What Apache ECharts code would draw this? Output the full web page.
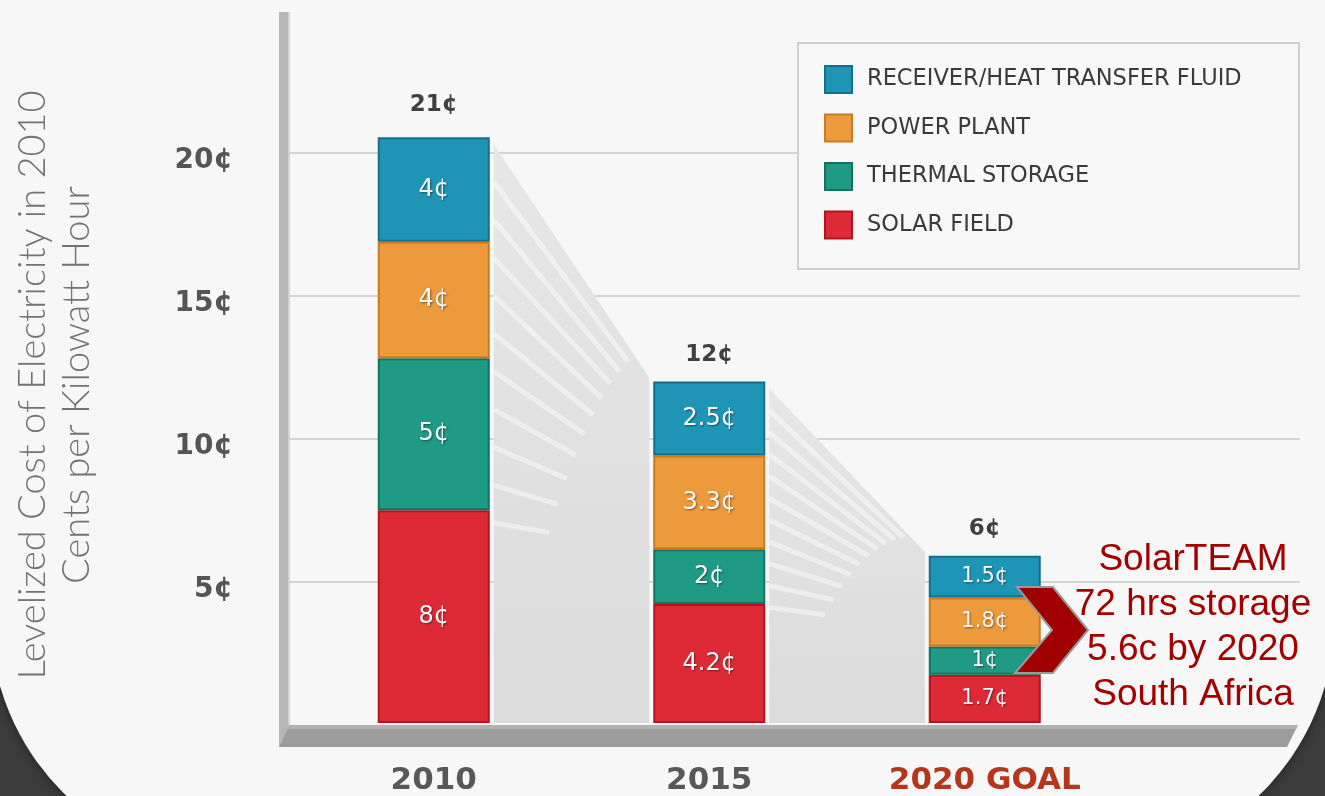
<!DOCTYPE html>
<html>
<head>
<meta charset="utf-8">
<script src="https://cdn.jsdelivr.net/npm/echarts/dist/echarts.min.js"></script>
<style>
  html, body { margin: 0; padding: 0; }
  body { width: 1325px; height: 796px; background: #3b3b3b; overflow: hidden; position: relative; }
  #card { position: absolute; left: -10px; top: -10px; width: 1345px; height: 876px; background: #f7f7f7;
          border-bottom-left-radius: 250px; border-bottom-right-radius: 250px; box-shadow: 0 0 10px rgba(0,0,0,0.45); }
  #chart { position: absolute; left: 0; top: 0; width: 1325px; height: 796px; }
</style>
</head>
<body>
<div id="card"></div>
<div id="chart"></div>
<script>
// ---- data ----
const categories = ['2010', '2015', '2020 GOAL'];
const seriesNames = ['RECEIVER/HEAT TRANSFER FLUID', 'POWER PLANT', 'THERMAL STORAGE', 'SOLAR FIELD'];
// drawn segment heights (cents/kWh)
const solarField = [7.46, 4.17, 1.69];
const thermalStorage = [5.33, 1.92, 0.99];
const powerPlant = [4.08, 3.29, 1.72];
const receiverHTF = [3.67, 2.59, 1.46];
// printed labels
const solarLabels = ['8¢', '4.2¢', '1.7¢'];
const thermalLabels = ['5¢', '2¢', '1¢'];
const powerLabels = ['4¢', '3.3¢', '1.8¢'];
const receiverLabels = ['4¢', '2.5¢', '1.5¢'];
const totalLabels = ['21¢', '12¢', '6¢'];
const yTickValues = [5, 10, 15, 20];
const yTitle = 'Levelized Cost of Electricity in 2010\nCents per Kilowatt Hour';
const annotationLines = ['SolarTEAM', '72 hrs storage', '5.6c by 2020', 'South Africa'];

const totals = categories.map((c, i) => solarField[i] + thermalStorage[i] + powerPlant[i] + receiverHTF[i]);

const colors = {
  receiver: ['#1f95b6', '#146f8a'],
  power: ['#ec9a3b', '#c97b22'],
  thermal: ['#1f9a85', '#13735f'],
  solar: ['#de2a37', '#b3141f']
};

const BAR_W = 112;
const segLabel = {
  show: true, position: 'inside', color: '#fafafa', fontFamily: 'DejaVu Sans', fontSize: 24,
  textShadowColor: 'rgba(0,0,0,0.45)', textShadowBlur: 2, textShadowOffsetX: 1, textShadowOffsetY: 1
};
function barSeries(name, values, labels, col) {
  return {
    name: name, type: 'bar', stack: 'cost', xAxisIndex: 1, yAxisIndex: 1, barWidth: BAR_W, z: 3,
    itemStyle: { color: col[0], borderColor: col[1], borderWidth: 2 },
    label: Object.assign({}, segLabel, { formatter: p => labels[p.dataIndex] }),
    data: values.map((v, i) => ({ value: v, label: { fontSize: i === 2 ? 21 : 24 } }))
  };
}

// ribbons between bars (built from totals)
const ribbonData = [];
for (let i = 0; i < categories.length - 1; i++) ribbonData.push([i, totals[i], totals[i + 1]]);

function renderRibbon(params, api) {
  const i = api.value(0);
  const p0 = api.coord([i, api.value(1)]);
  const p1 = api.coord([i + 1, api.value(2)]);
  const yb = api.coord([i, 0])[1];
  const half = BAR_W / 2;
  const x0 = p0[0] + half + 4, y0 = p0[1] + 7;
  const x1 = p1[0] - half - 4, y1 = p1[1] - 4;
  const children = [{
    type: 'polygon',
    shape: { points: [[x0, y0], [x1, y1], [x1, yb], [x0, yb]] },
    style: { fill: new echarts.graphic.LinearGradient(0, 0, 0, 1, [
      { offset: 0, color: '#e7e7e7' }, { offset: 1, color: '#dbdbdb' }]) }
  }];
  const slopeTop = (y1 - y0) / (x1 - x0);
  const W = x1 - x0;
  for (let k = 1; k <= 10; k++) {
    const t = k / 11;
    const sy = y0 + t * (yb - y0) * 0.72;
    const slope = slopeTop * (1 - t) * 0.95 + 0.04;
    let len = W * (0.92 - 0.62 * t);
    if (sy + slope * len > yb - 4) len = (yb - 4 - sy) / slope;
    children.push({
      type: 'line',
      shape: { x1: x0, y1: sy, x2: x0 + len, y2: sy + slope * len },
      style: { stroke: 'rgba(255,255,255,0.45)', lineWidth: 5 }
    });
  }
  return { type: 'group', children: children };
}

const chart = echarts.init(document.getElementById('chart'), null, { renderer: 'canvas' });
chart.setOption({
  animation: false,
  backgroundColor: 'transparent',
  grid: [
    { left: 290, right: 25, top: 10, bottom: 71 },
    { left: 296, width: 826.5, top: 10, bottom: 71 }
  ],
  xAxis: [
    { gridIndex: 0, type: 'value', min: 0, max: 1, show: false },
    { gridIndex: 1, type: 'category', data: categories,
      axisLine: { show: false }, axisTick: { show: false },
      axisLabel: { margin: 42, fontFamily: 'DejaVu Sans', fontWeight: 'bold', fontSize: 31,
        color: (v, i) => (i === 2 ? '#b4361d' : '#585858') } }
  ],
  yAxis: [
    { gridIndex: 0, type: 'value', min: 0, max: 25, interval: 5,
      axisLine: { show: false }, axisTick: { show: false },
      axisLabel: { margin: 57, fontFamily: 'DejaVu Sans', fontWeight: 'bold', fontSize: 28, color: '#555555',
        verticalAlign: 'top', lineHeight: 16,
        formatter: v => (yTickValues.indexOf(v) >= 0 ? v + '¢' : '') },
      splitLine: { show: true, showMinLine: false, showMaxLine: false, lineStyle: { color: '#c9c9c9', width: 1.5 } } },
    { gridIndex: 1, type: 'value', min: 0, max: 25, interval: 5, show: false, splitLine: { show: false } }
  ],
  legend: {
    data: seriesNames, orient: 'vertical', left: 824, top: 65, padding: 0,
    itemWidth: 27, itemHeight: 27, itemGap: 19.5,
    icon: 'rect', selectedMode: false,
    textStyle: { fontFamily: 'DejaVu Sans', fontSize: 22.5, color: '#3a3a3a', padding: [0, 0, 0, 10] }
  },
  graphic: [
    // legend frame
    { type: 'rect', z: 1, shape: { x: 798, y: 43, width: 501, height: 226 },
      style: { fill: '#f8f8f8', stroke: '#cfcfcf', lineWidth: 2 } },
    // back wall
    { type: 'rect', z: 1, shape: { x: 279, y: 12, width: 11, height: 735 }, style: { fill: '#b7b7b7' } },
    { type: 'rect', z: 1, shape: { x: 288, y: 12, width: 2, height: 713 }, style: { fill: '#d3d3d3' } },
    // floor
    { type: 'polygon', z: 1, shape: { points: [[290, 725], [1298, 725], [1287, 747], [279, 747]] },
      style: { fill: '#9c9c9c' } },
    { type: 'polygon', z: 1, shape: { points: [[290, 725], [1298, 725], [1296, 729], [288, 729]] },
      style: { fill: '#b2b2b2' } },
    // y title
    { type: 'text', z: 5, x: 55, y: 385, rotation: Math.PI / 2,
      style: { text: yTitle, x: 0, y: 0, align: 'center', verticalAlign: 'middle', lineHeight: 44,
        font: '300 38px Lato', fill: '#737373' } },
    // annotation chevron
    { type: 'polygon', z: 10,
      shape: { points: [[1017, 587], [1053, 587], [1088, 630], [1053, 673], [1015, 673], [1052, 630]] },
      style: { fill: '#a00000', stroke: '#9a9a9a', lineWidth: 2 } },
    { type: 'text', z: 10, x: 1193, y: 627,
      style: { text: annotationLines.join('\n'), align: 'center', verticalAlign: 'middle', lineHeight: 45,
        font: '37px "Liberation Sans"', fill: '#a30000' } }
  ],
  series: [
    { type: 'custom', xAxisIndex: 1, yAxisIndex: 1, z: 1, renderItem: renderRibbon, data: ribbonData, silent: true },
    barSeries(seriesNames[3], solarField, solarLabels, colors.solar),
    barSeries(seriesNames[2], thermalStorage, thermalLabels, colors.thermal),
    barSeries(seriesNames[1], powerPlant, powerLabels, colors.power),
    barSeries(seriesNames[0], receiverHTF, receiverLabels, colors.receiver),
    { type: 'scatter', xAxisIndex: 1, yAxisIndex: 1, symbolSize: 0, z: 4,
      data: totals.map((t, i) => ({ value: [i, t], label: { distance: i === 0 ? 21 : 15 } })),
      label: { show: true, position: 'top', formatter: p => totalLabels[p.dataIndex],
        fontFamily: 'DejaVu Sans', fontWeight: 'bold', fontSize: 23, color: '#111111' } }
  ]
});
</script>
</body>
</html>
